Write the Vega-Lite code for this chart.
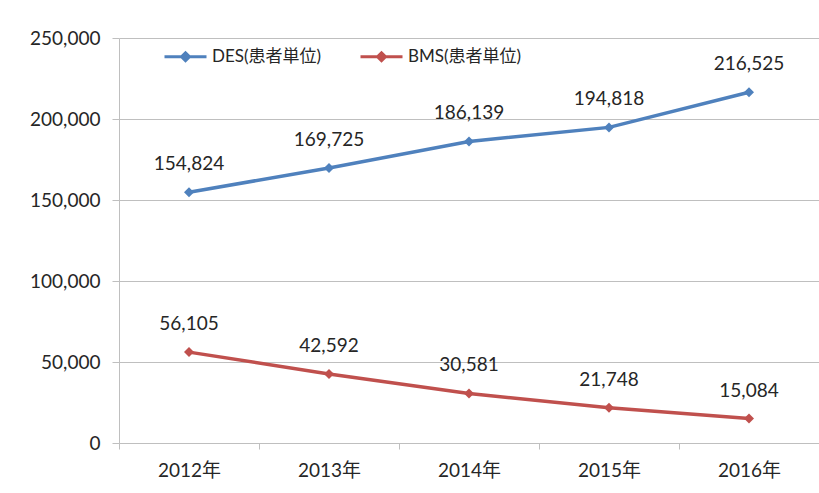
{
  "$schema": "https://vega.github.io/schema/vega-lite/v6.json",
  "width": 700,
  "height": 405,
  "autosize": {"type": "none"},
  "padding": {"left": 119, "top": 38, "right": 0, "bottom": 50},
  "background": "white",
  "config": {
    "view": {"stroke": null},
    "font": "Lato, 'Noto Sans CJK JP', sans-serif"
  },
  "data": {
    "values": [
      {"year": "2012年", "series": "DES(患者単位)", "value": 154824},
      {"year": "2013年", "series": "DES(患者単位)", "value": 169725},
      {"year": "2014年", "series": "DES(患者単位)", "value": 186139},
      {"year": "2015年", "series": "DES(患者単位)", "value": 194818},
      {"year": "2016年", "series": "DES(患者単位)", "value": 216525},
      {"year": "2012年", "series": "BMS(患者単位)", "value": 56105},
      {"year": "2013年", "series": "BMS(患者単位)", "value": 42592},
      {"year": "2014年", "series": "BMS(患者単位)", "value": 30581},
      {"year": "2015年", "series": "BMS(患者単位)", "value": 21748},
      {"year": "2016年", "series": "BMS(患者単位)", "value": 15084}
    ]
  },
  "encoding": {
    "x": {
      "field": "year",
      "type": "nominal",
      "sort": null,
      "bandPosition": 0.5,
      "scale": {"type": "band", "paddingInner": 0, "paddingOuter": 0},
      "axis": {
        "title": null,
        "labelAngle": 0,
        "tickBand": "extent",
        "domainColor": "#BFBFBF",
        "tickColor": "#BFBFBF",
        "tickSize": 6,
        "labelFontSize": 19,
        "labelPadding": 12,
        "labelColor": "#262626",
        "grid": false
      }
    },
    "y": {
      "field": "value",
      "type": "quantitative",
      "scale": {"domain": [0, 250000], "nice": false},
      "axis": {
        "title": null,
        "values": [0, 50000, 100000, 150000, 200000, 250000],
        "format": ",.0f",
        "grid": true,
        "gridColor": "#BFBFBF",
        "domainColor": "#BFBFBF",
        "tickColor": "#BFBFBF",
        "tickSize": 7,
        "labelPadding": 12,
        "labelFontSize": 19,
        "labelColor": "#262626"
      }
    },
    "color": {
      "field": "series",
      "type": "nominal",
      "sort": null,
      "scale": {"domain": ["DES(患者単位)", "BMS(患者単位)"], "range": ["#4F81BD", "#C0504D"]},
      "legend": {
        "title": null,
        "orient": "none",
        "legendX": 44,
        "legendY": -4,
        "direction": "horizontal",
        "labelFontSize": 17,
        "labelColor": "#262626",
        "symbolType": "M-1,0L1,0M-0.19,0L0,-0.19L0.19,0L0,0.19Z",
        "symbolSize": 1764,
        "symbolStrokeWidth": 3,
        "columnPadding": 32,
        "labelOffset": 4
      }
    }
  },
  "layer": [
    {"mark": {"type": "line", "strokeWidth": 3.5}},
    {"mark": {"type": "point", "shape": "diamond", "filled": true, "size": 100, "opacity": 1}},
    {
      "mark": {"type": "text", "dy": -28, "fontSize": 19},
      "encoding": {
        "text": {"field": "value", "format": ",.0f"},
        "color": {"value": "#262626"}
      }
    }
  ]
}
